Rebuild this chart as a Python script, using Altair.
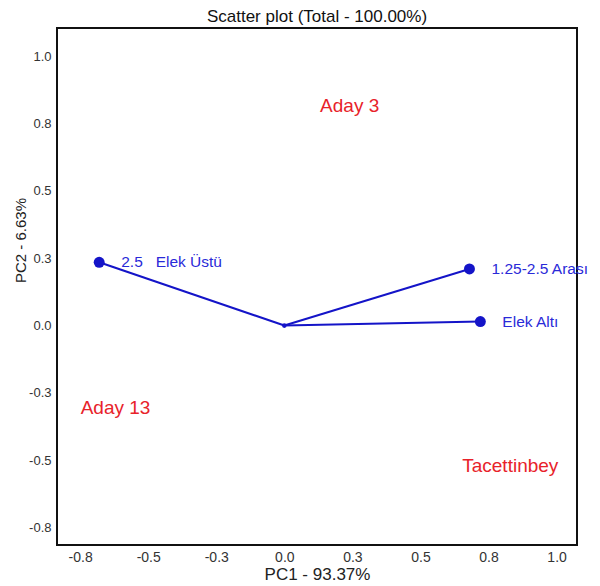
import altair as alt
import pandas as pd

# Variable loadings (PC1, PC2)
var_names = ["2.5\u00a0\u00a0 Elek Üstü", "1.25-2.5 Arası", "Elek Altı"]
var_pc1 = [-0.68, 0.68, 0.72]
var_pc2 = [0.235, 0.21, 0.015]

# Observation scores (shown as labels only)
obs_names = ["Aday 3", "Aday 13", "Tacettinbey"]
obs_pc1 = [0.24, -0.62, 0.83]
obs_pc2 = [0.815, -0.305, -0.52]

origin_x = [0.0]
origin_y = [0.0]

tick_values = [-0.75, -0.5, -0.25, 0.0, 0.25, 0.5, 0.75, 1.0]
tick_labels = ["-0.8", "-0.5", "-0.3", "0.0", "0.3", "0.5", "0.8", "1.0"]

x_domain = [-0.835, 1.075]
y_domain = [-0.815, 1.105]

vars_df = pd.DataFrame({"name": var_names, "pc1": var_pc1, "pc2": var_pc2,
                        "ox": origin_x * 3, "oy": origin_y * 3})
obs_df = pd.DataFrame({"name": obs_names, "pc1": obs_pc1, "pc2": obs_pc2})
orig_df = pd.DataFrame({"pc1": origin_x, "pc2": origin_y})

label_expr = " : ".join(
    [f"datum.value == {v} ? '{l}'" for v, l in zip(tick_values, tick_labels)]
) + " : ''"

FONT = "Liberation Sans"
BLUE = "#1414c8"

x_enc = alt.X("pc1:Q", scale=alt.Scale(domain=x_domain, nice=False, zero=False),
              axis=alt.Axis(values=tick_values, labelExpr=label_expr, ticks=False,
                            domain=False, grid=False, title="PC1 - 93.37%",
                            labelFontSize=14, labelColor="#333333", labelPadding=5,
                            titleFontSize=17, titleFontWeight="normal",
                            titleColor="#222222", titlePadding=2, labelFont=FONT,
                            titleFont=FONT))
y_enc = alt.Y("pc2:Q", scale=alt.Scale(domain=y_domain, nice=False, zero=False),
              axis=alt.Axis(values=tick_values, labelExpr=label_expr, ticks=False,
                            domain=False, grid=False, title="PC2 - 6.63%",
                            labelFontSize=13, labelColor="#333333", labelPadding=6,
                            titleFontSize=15, titleFontWeight="normal",
                            titleColor="#222222", labelFont=FONT, titleFont=FONT,
                            titleX=-37, titleY=212, titleAngle=270,
                            titleAlign="center", titleBaseline="middle"))

lines = alt.Chart(vars_df).mark_rule(color=BLUE, strokeWidth=2).encode(
    x=x_enc, y=y_enc, x2="ox:Q", y2="oy:Q")

pts = alt.Chart(vars_df).mark_circle(color=BLUE, opacity=1, size=120).encode(
    x="pc1:Q", y="pc2:Q")

orig = alt.Chart(orig_df).mark_circle(color=BLUE, opacity=1, size=22).encode(
    x="pc1:Q", y="pc2:Q")

var_text = alt.Chart(vars_df).mark_text(
    align="left", baseline="middle", dx=22, fontSize=15.5, font=FONT, color="#2a2ad8"
).encode(x="pc1:Q", y="pc2:Q", text="name:N")

obs_text = alt.Chart(obs_df).mark_text(
    align="center", baseline="middle", fontSize=19, font=FONT, color="#e8222a"
).encode(x="pc1:Q", y="pc2:Q", text="name:N")

chart = alt.layer(lines, pts, orig, var_text, obs_text).properties(
    width=520, height=517,
    background="white",
    title=alt.TitleParams("Scatter plot (Total - 100.00%)", fontSize=17,
                          fontWeight="normal", font=FONT, color="#111111",
                          anchor="middle", offset=2),
    autosize=alt.AutoSizeParams(type="none"),
    padding={"left": 49, "top": 20, "right": 15, "bottom": 41},
).configure_view(stroke="#111111", strokeWidth=2)

chart.save("out.html", embed_options={"renderer": "svg", "actions": False})
